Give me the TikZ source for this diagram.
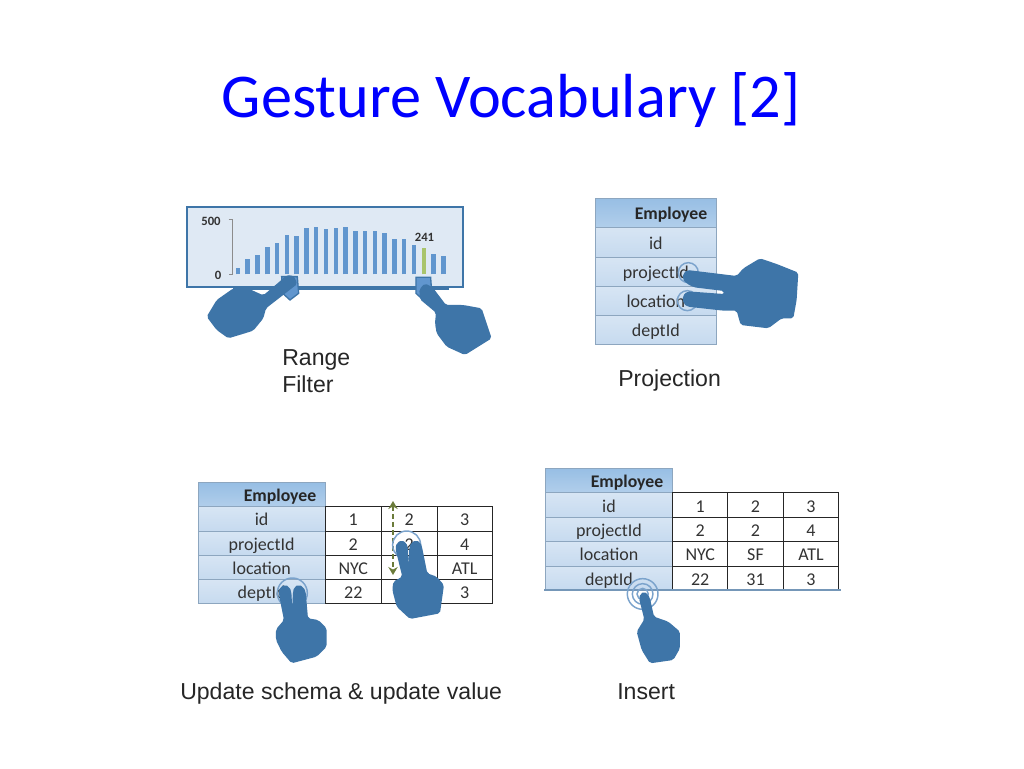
\documentclass[tikz,border=0pt]{standalone}
\usepackage{fontspec}
\setmainfont{Carlito}
\newfontfamily\capfont{Liberation Sans}
\usepackage{xcolor}
\usetikzlibrary{arrows.meta}
\definecolor{handblue}{HTML}{3E75A8}
\definecolor{barblue}{HTML}{6196CE}
\definecolor{ringblue}{HTML}{7BA3CC}
\definecolor{linkblue}{HTML}{8DA6BF}
\definecolor{cellblue}{HTML}{C6DAEF}
\definecolor{headblue}{HTML}{97BEE4}
\definecolor{panelblue}{HTML}{DFE9F4}
\definecolor{barpick}{HTML}{A9C46C}
\definecolor{dragolive}{HTML}{6B7B3A}
\tikzset{
  hand/.style={fill=handblue,draw=none,rounded corners=1.5pt},
  ring/.style={draw=ringblue,line width=1.1pt},
  bar/.style={draw=barblue,line width=3.4pt},
  keycell/.style={draw=linkblue,line width=0.7pt,top color=cellblue!70!white,bottom color=cellblue},
  headcell/.style={draw=linkblue,line width=0.7pt,top color=headblue,bottom color=headblue!75!white},
  datacell/.style={draw=black!85,line width=0.7pt,fill=white},
  celltext/.style={font=\fontsize{13.5}{15}\selectfont,text=black!80,inner sep=0pt,text height=8pt,text depth=1pt,yshift=-1.8pt},
  headtext/.style={font=\fontsize{13.3}{15}\selectfont\bfseries,text=black!85,inner sep=0pt},
  charttext/.style={font=\fontsize{9.5}{11}\selectfont\bfseries,text=black!80,inner sep=0pt},
  captiontext/.style={font=\capfont\fontsize{17.3}{20}\selectfont,text=black!85,inner sep=0pt,anchor=west},
}
\begin{document}
\begin{tikzpicture}[x=0.75pt,y=0.75pt,yscale=-1,xscale=1]
\useasboundingbox (0,0) rectangle (1024,768);
\fill[white] (0,0) rectangle (1024,768);

%Title
\node (title) [text=blue,font=\fontsize{46.7}{56}\selectfont,inner sep=0pt] at (511,100) {Gesture Vocabulary [2]};

%Range filter panel
\draw [draw=handblue,line width=1.4pt,fill=panelblue] (187,207) rectangle (463,287);
\draw [draw=black!45,line width=0.7pt] (228.5,219.5) -- (232.5,219.5) -- (232.5,274.5) -- (228.5,274.5);
\node (maxlabel) [charttext] at (211,221) {500};
\node (minlabel) [charttext] at (218,275.5) {0};
\node (barlabel) [charttext] at (424.5,237.5) {241};
%Bars
\draw [bar] (238,274.3) -- (238,268.3);
\draw [bar] (247.7,274.3) -- (247.7,259.3);
\draw [bar] (257.5,274.3) -- (257.5,254.7);
\draw [bar] (267.3,274.3) -- (267.3,246.7);
\draw [bar] (277.1,274.3) -- (277.1,243.3);
\draw [bar] (286.9,274.3) -- (286.9,235);
\draw [bar] (296.7,274.3) -- (296.7,236);
\draw [bar] (306.4,274.3) -- (306.4,228);
\draw [bar] (316.2,274.3) -- (316.2,227.3);
\draw [bar] (326,274.3) -- (326,229);
\draw [bar] (335.8,274.3) -- (335.8,228.3);
\draw [bar] (345.6,274.3) -- (345.6,226.7);
\draw [bar] (355.3,274.3) -- (355.3,231.3);
\draw [bar] (365.1,274.3) -- (365.1,231.3);
\draw [bar] (374.9,274.3) -- (374.9,231);
\draw [bar] (384.7,274.3) -- (384.7,233.3);
\draw [bar] (394.5,274.3) -- (394.5,239.3);
\draw [bar] (404.2,274.3) -- (404.2,238.7);
\draw [bar] (414,274.3) -- (414,245);
\draw [bar,draw=barpick] (423.8,274.3) -- (423.8,248);
\draw [bar] (433.6,274.3) -- (433.6,253.7);
\draw [bar] (443.3,274.3) -- (443.3,255.7);
%Slider
\draw [draw=handblue,line width=3pt] (233,287.5) -- (449,287.5);
\begin{scope}[shift={(170,190)},scale=0.3333]
\draw [draw=handblue,line width=1pt,fill=barblue] (335,260) -- (382,260) -- (386,310) -- (360,330) -- (338,310) -- cycle;
\draw [draw=handblue,line width=1pt,fill=barblue] (738,262) -- (782,262) -- (785,305) -- (760,330) -- (738,310) -- cycle;
\draw [hand] (332,272) -- (350,255) -- (372,258) -- (382,282) -- (288,355) -- (280,385) -- (250,422) -- (215,433) -- (175,445) -- (140,420) -- (110,380) -- (140,330) -- (190,295) -- (240,298) -- (280,316) -- cycle;
\draw [hand] (748,298) -- (765,280) -- (788,292) -- (828,345) -- (880,345) -- (935,355) -- (965,445) -- (885,495) -- (830,470) -- (800,430) -- (795,400) -- (798,368) -- (750,328) -- cycle;
\end{scope}
\node (rangelabel) [captiontext] at (282,360) {Range};
\node (filterlabel) [captiontext] at (282,384) {Filter};

%Projection table
\draw [headcell] (595.7,198) rectangle (716,227);
\draw [keycell] (595.7,227) rectangle (716,257) node[midway,celltext] (pjid) {id};
\draw [keycell] (595.7,257) rectangle (716,286.3) node[midway,celltext] (pjproject) {projectId};
\draw [keycell] (595.7,286.3) rectangle (716,315.3) node[midway,celltext] (pjlocation) {location};
\draw [keycell] (595.7,315.3) rectangle (716,344.3) node[midway,celltext] (pjdept) {deptId};
\node (pjhead) [headtext,anchor=east] at (707.5,214.5) {Employee};
\begin{scope}[shift={(580,190)},scale=0.3333]
\draw [ring] (325,248) circle (30);
\draw [ring] (322,332) circle (30);
\draw [hand] (322,240) -- (470,258) -- (490,235) -- (540,205) -- (590,222) -- (655,248) -- (650,330) -- (640,385) -- (605,385) -- (565,415) -- (482,405) -- (470,362) -- (430,362) -- (322,350) -- (310,340) -- (308,318) -- (322,304) -- (432,312) -- (432,303) -- (342,292) -- (322,282) -- (308,268) -- (310,250) -- cycle;
\end{scope}
\node (projectionlabel) [captiontext] at (618,380.5) {Projection};

%Update table
\draw [headcell] (198,482.7) rectangle (325.3,506.7);
\draw [keycell] (198,506.7) rectangle (325.3,531) node[midway,celltext] (upid) {id};
\draw [keycell] (198,531) rectangle (325.3,555.3) node[midway,celltext] (upproject) {projectId};
\draw [keycell] (198,555.3) rectangle (325.3,579.3) node[midway,celltext] (uplocation) {location};
\draw [keycell] (198,579.3) rectangle (325.3,603.7) node[midway,celltext] (updept) {deptId};
\node (uphead) [headtext,anchor=east] at (316.5,496.5) {Employee};
\draw [datacell] (325.3,506.7) rectangle (381.3,531) node[midway,celltext] (upa1) {1};
\draw [datacell] (381.3,506.7) rectangle (437,531) node[midway,celltext] (upa2) {2};
\draw [datacell] (437,506.7) rectangle (492.3,531) node[midway,celltext] (upa3) {3};
\draw [datacell] (325.3,531) rectangle (381.3,555.3) node[midway,celltext] (upb1) {2};
\draw [datacell] (381.3,531) rectangle (437,555.3) node[midway,celltext] (upb2) {2};
\draw [datacell] (437,531) rectangle (492.3,555.3) node[midway,celltext] (upb3) {4};
\draw [datacell] (325.3,555.3) rectangle (381.3,579.3) node[midway,celltext] (upc1) {NYC};
\draw [datacell] (381.3,555.3) rectangle (437,579.3);
\draw [datacell] (437,555.3) rectangle (492.3,579.3) node[midway,celltext] (upc3) {ATL};
\draw [datacell] (325.3,579.3) rectangle (381.3,603.7) node[midway,celltext] (upd1) {22};
\draw [datacell] (381.3,579.3) rectangle (437,603.7);
\draw [datacell] (437,579.3) rectangle (492.3,603.7) node[midway,celltext] (upd3) {3};
%Drag arrow
\coordinate (dragtop) at (393,501);
\coordinate (dragbottom) at (393,575);
\draw [draw=dragolive,line width=2pt,dash pattern=on 4pt off 2pt,{Stealth[length=6pt,width=7pt]}-{Stealth[length=6pt,width=7pt]}] (dragtop) -- (dragbottom);
\begin{scope}[shift={(170,470)},scale=0.3333]
\draw [ring] (367,369) circle (45);
\draw [ring] (710,225) circle (42);
\draw [hand] (326,365) -- (331,351) -- (345,344) -- (358,351) -- (364,365) -- (367,415) -- (369,365) -- (373,351) -- (386,344) -- (400,351) -- (407,365) -- (414,445) -- (445,450) -- (470,475) -- (470,530) -- (440,560) -- (365,580) -- (335,545) -- (318,510) -- (318,478) -- (342,450) -- (332,400) -- cycle;
\draw [hand] (676,235) -- (681,218) -- (695,211) -- (709,218) -- (714,235) -- (716,285) -- (718,235) -- (723,218) -- (738,211) -- (752,218) -- (757,235) -- (772,310) -- (800,320) -- (822,345) -- (815,395) -- (810,430) -- (720,447) -- (680,410) -- (667,360) -- (670,335) -- (697,320) -- cycle;
\end{scope}
\node (updatelabel) [captiontext] at (180,694) {Update schema \& update value};

%Insert table
\draw [headcell] (545.3,468) rectangle (672.7,492.7);
\draw [keycell] (545.3,492.7) rectangle (672.7,517.3) node[midway,celltext] (inid) {id};
\draw [keycell] (545.3,517.3) rectangle (672.7,541.7) node[midway,celltext] (inproject) {projectId};
\draw [keycell] (545.3,541.7) rectangle (672.7,566) node[midway,celltext] (inlocation) {location};
\draw [keycell] (545.3,566) rectangle (672.7,590) node[midway,celltext] (indept) {deptId};
\node (inhead) [headtext,anchor=east] at (663.5,483) {Employee};
\draw [datacell] (672.7,492.7) rectangle (727.7,517.3) node[midway,celltext] (ina1) {1};
\draw [datacell] (727.7,492.7) rectangle (783.3,517.3) node[midway,celltext] (ina2) {2};
\draw [datacell] (783.3,492.7) rectangle (838.7,517.3) node[midway,celltext] (ina3) {3};
\draw [datacell] (672.7,517.3) rectangle (727.7,541.7) node[midway,celltext] (inb1) {2};
\draw [datacell] (727.7,517.3) rectangle (783.3,541.7) node[midway,celltext] (inb2) {2};
\draw [datacell] (783.3,517.3) rectangle (838.7,541.7) node[midway,celltext] (inb3) {4};
\draw [datacell] (672.7,541.7) rectangle (727.7,566) node[midway,celltext] (inc1) {NYC};
\draw [datacell] (727.7,541.7) rectangle (783.3,566) node[midway,celltext] (inc2) {SF};
\draw [datacell] (783.3,541.7) rectangle (838.7,566) node[midway,celltext] (inc3) {ATL};
\draw [datacell] (672.7,566) rectangle (727.7,590) node[midway,celltext] (ind1) {22};
\draw [datacell] (727.7,566) rectangle (783.3,590) node[midway,celltext] (ind2) {31};
\draw [datacell] (783.3,566) rectangle (838.7,590) node[midway,celltext] (ind3) {3};
\draw [draw=linkblue!70!handblue,line width=1.6pt] (544,590.3) -- (841,590.3);
\begin{scope}[shift={(535,460)},scale=0.3333]
\draw [ring] (323,402) circle (46);
\draw [ring] (323,402) circle (31);
\draw [ring] (323,402) circle (17);
\draw [hand] (312,415) -- (316,402) -- (327,395) -- (338,402) -- (345,415) -- (357,470) -- (400,485) -- (435,515) -- (435,565) -- (415,600) -- (345,610) -- (320,570) -- (305,515) -- (328,478) -- cycle;
\end{scope}
\node (insertlabel) [captiontext] at (617,692) {Insert};

\end{tikzpicture}
\end{document}
